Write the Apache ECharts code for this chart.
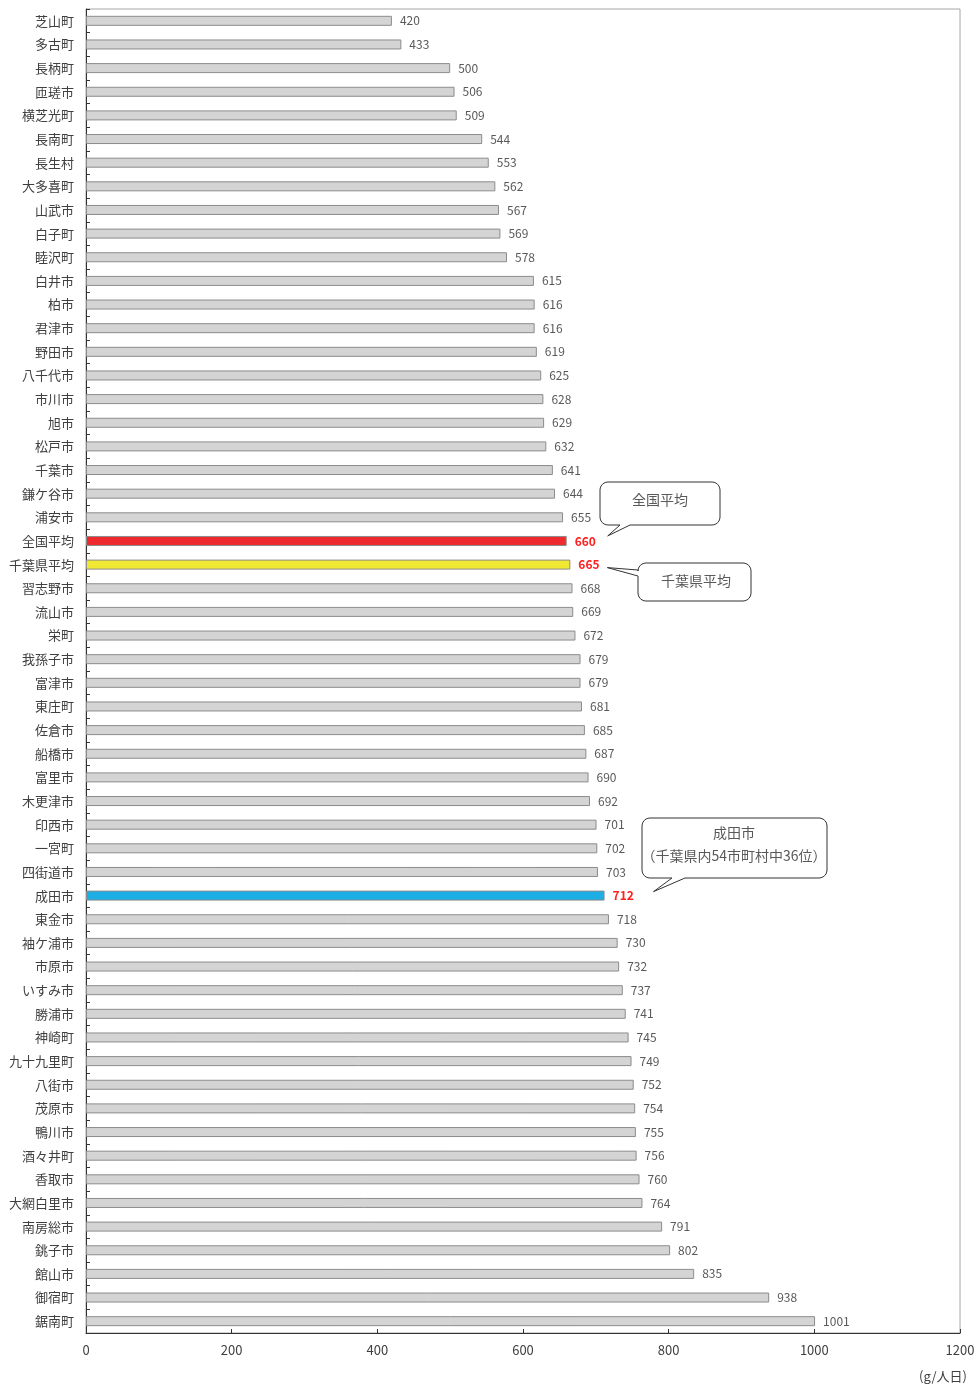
<!DOCTYPE html>
<html>
<head>
<meta charset="utf-8">
<script src="https://cdn.jsdelivr.net/npm/echarts@6/dist/echarts.min.js"></script>
<style>
  html, body { margin: 0; padding: 0; background: #fff; }
  #chart { width: 974px; height: 1389px; }
</style>
</head>
<body>
<div id="chart"></div>
<script>
  // 市町村名（上から順）
  const categories = [
    '芝山町', '多古町', '長柄町', '匝瑳市', '横芝光町', '長南町', '長生村', '大多喜町',
    '山武市', '白子町', '睦沢町', '白井市', '柏市', '君津市', '野田市', '八千代市',
    '市川市', '旭市', '松戸市', '千葉市', '鎌ケ谷市', '浦安市', '全国平均', '千葉県平均',
    '習志野市', '流山市', '栄町', '我孫子市', '富津市', '東庄町', '佐倉市', '船橋市',
    '富里市', '木更津市', '印西市', '一宮町', '四街道市', '成田市', '東金市', '袖ケ浦市',
    '市原市', 'いすみ市', '勝浦市', '神崎町', '九十九里町', '八街市', '茂原市', '鴨川市',
    '酒々井町', '香取市', '大網白里市', '南房総市', '銚子市', '館山市', '御宿町', '鋸南町'
  ]
  // 1人1日当たりのごみ排出量 (g/人日)
  const values = [
    420, 433, 500, 506, 509, 544, 553, 562,
    567, 569, 578, 615, 616, 616, 619, 625,
    628, 629, 632, 641, 644, 655, 660, 665,
    668, 669, 672, 679, 679, 681, 685, 687,
    690, 692, 701, 702, 703, 712, 718, 730,
    732, 737, 741, 745, 749, 752, 754, 755,
    756, 760, 764, 791, 802, 835, 938, 1001
  ]
  const xTicks = [0, 200, 400, 600, 800, 1000, 1200]

  // 強調するバーの色
  const highlight = {
    '全国平均': '#ee2a2e',
    '千葉県平均': '#f0e832',
    '成田市': '#1eaee6'
  }

  const chart = echarts.init(document.getElementById('chart'))

  const option = {
    animation: false,
    textStyle: { fontFamily: '"Noto Sans CJK JP", "Noto Sans", sans-serif' },
    grid: {
      left: 86, right: 14, top: 9, bottom: 56,
      outerBoundsMode: 'none',
      containLabel: false,
      show: true, borderColor: '#a6a6a6', borderWidth: 1
    },
    xAxis: {
      type: 'value',
      min: xTicks[0],
      max: xTicks[xTicks.length - 1],
      interval: 200,
      splitLine: { show: false },
      axisLine: { show: true, lineStyle: { color: '#333', width: 1 } },
      axisTick: { show: true, inside: true, length: 4, lineStyle: { color: '#333' } },
      axisLabel: { color: '#404040', fontSize: 13, margin: 11, formatter: v => String(v) }
    },
    yAxis: {
      type: 'category',
      data: categories,
      inverse: true,
      axisLine: { show: true, lineStyle: { color: '#333', width: 1 } },
      axisTick: { show: true, inside: true, length: 4, lineStyle: { color: '#333' } },
      axisLabel: { color: '#404040', fontSize: 13, margin: 12 }
    },
    series: [{
      type: 'bar',
      barWidth: 10,
      data: values.map((v, i) => {
        const c = highlight[categories[i]]
        return {
          value: v,
          itemStyle: {
            color: c || '#d4d4d4',
            borderColor: '#8c8c8c',
            borderWidth: 1
          },
          label: c ? { color: '#ff2020', fontWeight: 'bold' } : {}
        }
      }),
      label: {
        show: true,
        position: 'right',
        distance: 8,
        color: '#595959',
        fontSize: 12
      }
    }]
  }
  chart.setOption(option)

  // 角の丸め用の点
  function arc(cx, cy, r, a0, a1) {
    const pts = []
    for (let k = 0; k <= 6; k++) {
      const a = a0 + (a1 - a0) * k / 6
      pts.push([cx + r * Math.cos(a), cy + r * Math.sin(a)])
    }
    return pts
  }

  // 吹き出し（角丸の箱 + しっぽ）
  function callout(box, tail, tip) {
    const { x, y, w, h } = box
    const r = 8
    const P = Math.PI
    let pts = []
    pts = pts.concat(arc(x + r, y + r, r, P, 1.5 * P))            // 左上
    pts = pts.concat(arc(x + w - r, y + r, r, 1.5 * P, 2 * P))    // 右上
    pts = pts.concat(arc(x + w - r, y + h - r, r, 0, 0.5 * P))    // 右下
    if (tail.side === 'bottom') {
      pts.push([x + tail.b, y + h], tip, [x + tail.a, y + h])
      pts = pts.concat(arc(x + r, y + h - r, r, 0.5 * P, P))      // 左下
    } else {
      pts = pts.concat(arc(x + r, y + h - r, r, 0.5 * P, P))      // 左下
      pts.push([x, y + tail.b], tip, [x, y + tail.a])
    }
    return {
      type: 'polygon',
      shape: { points: pts },
      style: { fill: '#fff', stroke: '#333', lineWidth: 1 },
      z: 100
    }
  }

  function anchor(name, dx, dy) {
    const i = categories.indexOf(name)
    const p = chart.convertToPixel({ seriesIndex: 0 }, [values[i], name])
    return [p[0] + dx, p[1] + dy]
  }

  const textStyle = {
    fill: '#595959', fontSize: 14, align: 'center', verticalAlign: 'middle',
    fontFamily: '"Noto Sans CJK JP", sans-serif'
  }

  const tip1 = anchor('全国平均', 41, -5)
  const tip2 = anchor('千葉県平均', 37, 3)
  const tip3 = anchor('成田市', 49, -4)

  chart.setOption({
    graphic: [
      callout({ x: 600, y: 482, w: 120, h: 43 }, { side: 'bottom', a: 20, b: 30 }, tip1),
      { type: 'text', x: 660, y: 500, z: 101, style: Object.assign({ text: '全国平均' }, textStyle) },
      callout({ x: 638, y: 563, w: 113, h: 38 }, { side: 'left', a: 7, b: 13 }, tip2),
      { type: 'text', x: 696, y: 581, z: 101, style: Object.assign({ text: '千葉県平均' }, textStyle) },
      callout({ x: 642, y: 818, w: 185, h: 60 }, { side: 'bottom', a: 30, b: 43 }, tip3),
      { type: 'text', x: 734, y: 833, z: 101, style: Object.assign({ text: '成田市' }, textStyle) },
      { type: 'text', x: 734, y: 856, z: 101, style: Object.assign({ text: '（千葉県内54市町村中36位）' }, textStyle) },
      {
        type: 'text', right: 7, top: 1370, z: 101,
        style: { text: '(g/人日)', fill: '#404040', fontSize: 13, fontFamily: '"Noto Sans CJK JP", sans-serif' }
      }
    ]
  })
</script>
</body>
</html>
